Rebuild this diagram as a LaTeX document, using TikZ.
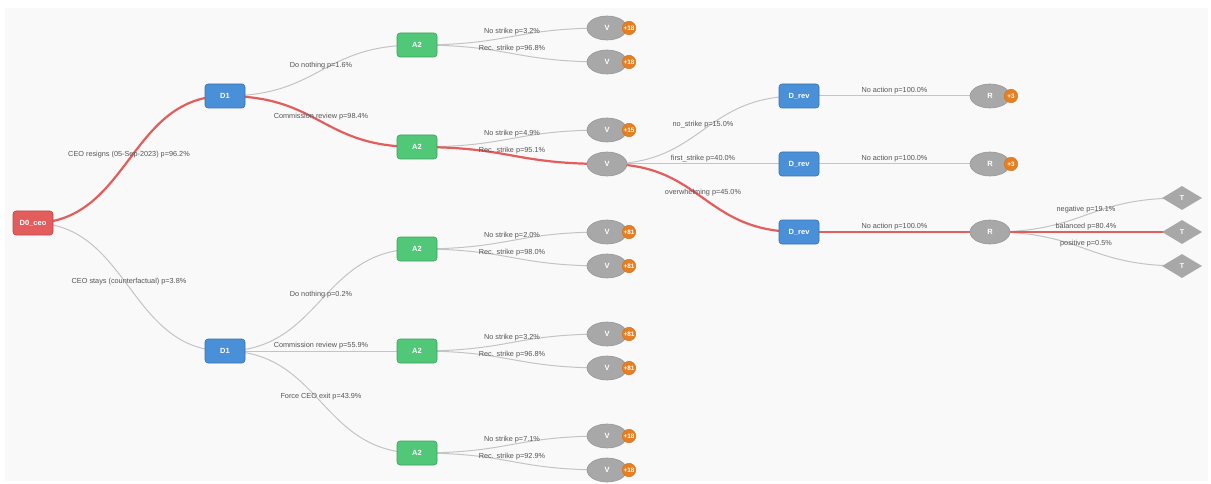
\documentclass[tikz,border=0pt]{standalone}
\usepackage{fontspec}
\setmainfont{Liberation Sans}
\usetikzlibrary{shapes.geometric,calc}

\definecolor{ceored}{HTML}{E35D5D}
\definecolor{decblue}{HTML}{4A90D9}
\definecolor{actgreen}{HTML}{50C878}
\definecolor{chgray}{HTML}{A8A8A8}
\definecolor{badgeorange}{HTML}{E67E22}
\definecolor{linkgray}{HTML}{C4C4C4}
\definecolor{hotred}{HTML}{E35D5D}
\definecolor{labgray}{HTML}{555555}
\definecolor{panelbg}{HTML}{F9F9F9}

\pgfdeclarelayer{panel}
\pgfdeclarelayer{links}
\pgfsetlayers{panel,links,main}

\tikzset{
  dnode/.style={draw=#1!80!black, fill=#1, rounded corners=3pt, minimum width=40pt, minimum height=24pt,
    inner sep=0pt, text=white, line width=0.6pt, font=\bfseries\fontsize{7.5}{8}\selectfont},
  chance/.style={ellipse, draw=chgray!90!black, fill=chgray, minimum width=40pt, minimum height=24pt,
    inner sep=0pt, text=white, line width=0.6pt, font=\bfseries\fontsize{7.5}{8}\selectfont},
  term/.style={diamond, aspect=1.67, fill=chgray, minimum width=40pt, minimum height=24pt,
    inner sep=0pt, text=white, font=\bfseries\fontsize{7}{8}\selectfont},
  badge/.style={circle, fill=badgeorange, draw=badgeorange!90!black, line width=0.4pt, minimum size=13.5pt,
    inner sep=0pt, text=white, font=\bfseries\fontsize{6.4}{7}\selectfont},
  link/.style={draw=linkgray, line width=1pt,
    to path={let \p1=(\tikztostart), \p2=(\tikztotarget) in
      .. controls ({(\x1+\x2)/2},\y1) and ({(\x1+\x2)/2},\y2) .. (\tikztotarget) \tikztonodes}},
  hot/.style={link, draw=hotred, line width=2.2pt},
  plab/.style={midway, yshift=5pt, inner sep=0pt, text=labgray, font=\fontsize{7.3}{8}\selectfont}
}

\begin{document}
\begin{tikzpicture}[x=1pt,y=-1pt]
\useasboundingbox (0,0) rectangle (1211,484);
\begin{pgfonlayer}{panel}
\fill[panelbg] (5,8) rectangle (1208,481);
\end{pgfonlayer}

% decision and action nodes
\node[dnode=ceored] (d0) at (33,223) {D0\_ceo};
\node[dnode=decblue] (d1a) at (225,96) {D1};
\node[dnode=decblue] (d1b) at (225,351) {D1};
\node[dnode=actgreen] (a2a) at (417,45) {A2};
\node[dnode=actgreen] (a2b) at (417,147) {A2};
\node[dnode=actgreen] (a2c) at (417,249) {A2};
\node[dnode=actgreen] (a2d) at (417,351) {A2};
\node[dnode=actgreen] (a2e) at (417,453) {A2};

% vote outcomes
\node[chance] (v1) at (607,28) {V};
\node[chance] (v2) at (607,62) {V};
\node[chance] (v3) at (607,130) {V};
\node[chance] (v4) at (607,164) {V};
\node[chance] (v5) at (607,232) {V};
\node[chance] (v6) at (607,266) {V};
\node[chance] (v7) at (607,334) {V};
\node[chance] (v8) at (607,368) {V};
\node[chance] (v9) at (607,436) {V};
\node[chance] (v10) at (607,470) {V};

\node[dnode=decblue] (drev1) at (799,96) {D\_rev};
\node[dnode=decblue] (drev2) at (799,164) {D\_rev};
\node[dnode=decblue] (drev3) at (799,232) {D\_rev};
\node[chance] (r1) at (990,96) {R};
\node[chance] (r2) at (990,164) {R};
\node[chance] (r3) at (990,232) {R};
\node[term] (t1) at (1182,198) {T};
\node[term] (t2) at (1182,232) {T};
\node[term] (t3) at (1182,266) {T};

% collapsed subtree counts
\node[badge] (b1) at (629,28) {+18};
\node[badge] (b2) at (629,62) {+18};
\node[badge] (b3) at (629,130) {+15};
\node[badge] (b5) at (629,232) {+81};
\node[badge] (b6) at (629,266) {+81};
\node[badge] (b7) at (629,334) {+81};
\node[badge] (b8) at (629,368) {+81};
\node[badge] (b9) at (629,436) {+18};
\node[badge] (b10) at (629,470) {+18};
\node[badge] (br1) at (1011,96) {+3};
\node[badge] (br2) at (1011,164) {+3};

\begin{pgfonlayer}{links}
\draw[link] (d0.center) to node[plab] {CEO stays (counterfactual) p=3.8\%} (d1b.center);
\draw[link] (d1a.center) to node[plab] {Do nothing p=1.6\%} (a2a.center);
\draw[link] (d1b.center) to node[plab] {Do nothing p=0.2\%} (a2c.center);
\draw[link] (d1b.center) to node[plab] {Commission review p=55.9\%} (a2d.center);
\draw[link] (d1b.center) to node[plab] {Force CEO exit p=43.9\%} (a2e.center);
\draw[link] (a2a.center) to node[plab] {No strike p=3.2\%} (v1.center);
\draw[link] (a2a.center) to node[plab] {Rec. strike p=96.8\%} (v2.center);
\draw[link] (a2b.center) to node[plab] {No strike p=4.9\%} (v3.center);
\draw[link] (a2c.center) to node[plab] {No strike p=2.0\%} (v5.center);
\draw[link] (a2c.center) to node[plab] {Rec. strike p=98.0\%} (v6.center);
\draw[link] (a2d.center) to node[plab] {No strike p=3.2\%} (v7.center);
\draw[link] (a2d.center) to node[plab] {Rec. strike p=96.8\%} (v8.center);
\draw[link] (a2e.center) to node[plab] {No strike p=7.1\%} (v9.center);
\draw[link] (a2e.center) to node[plab] {Rec. strike p=92.9\%} (v10.center);
\draw[link] (v4.center) to node[plab] {no\_strike p=15.0\%} (drev1.center);
\draw[link] (v4.center) to node[plab] {first\_strike p=40.0\%} (drev2.center);
\draw[link] (drev1.center) to node[plab] {No action p=100.0\%} (r1.center);
\draw[link] (drev2.center) to node[plab] {No action p=100.0\%} (r2.center);
\draw[link] (r3.center) to node[plab] {negative p=19.1\%} (t1.center);
\draw[link] (r3.center) to node[plab] {positive p=0.5\%} (t3.center);
% most likely path
\draw[hot] (d0.center) to node[plab] {CEO resigns (05-Sep-2023) p=96.2\%} (d1a.center);
\draw[hot] (d1a.center) to node[plab] {Commission review p=98.4\%} (a2b.center);
\draw[hot] (a2b.center) to node[plab] {Rec. strike p=95.1\%} (v4.center);
\draw[hot] (v4.center) to node[plab] {overwhelming p=45.0\%} (drev3.center);
\draw[hot] (drev3.center) to node[plab] {No action p=100.0\%} (r3.center);
\draw[hot] (r3.center) to node[plab] {balanced p=80.4\%} (t2.center);
\end{pgfonlayer}
\end{tikzpicture}
\end{document}
